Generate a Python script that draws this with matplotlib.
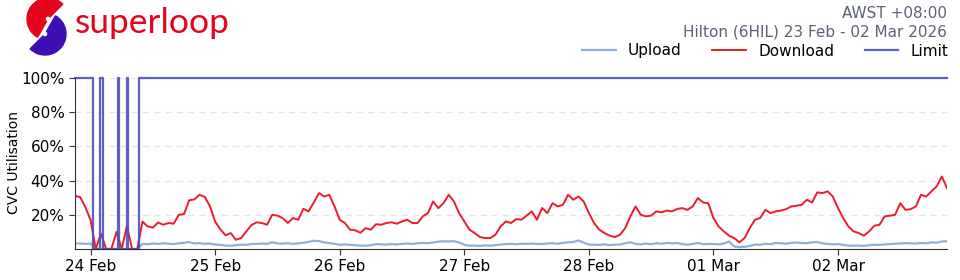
"""CVC utilisation chart for one POI over a week."""

import matplotlib
matplotlib.use("Agg")
import matplotlib.pyplot as plt
import matplotlib.dates as mdates
from matplotlib.patches import Wedge
import pandas as pd

# --- Data (hourly, AWST) ---

start = "2026-02-23 21:00"

download = [
    31.1, 30.3, 24.5, 17.0, 0, 9.0, 0, 0, 10.0, 0, 13.5, 0,
    0, 16.0, 13.2, 12.5, 15.5, 14.2, 15.2, 14.8, 20.0, 20.4, 28.5, 29.0,
    31.7, 30.5, 25.0, 16.0, 11.5, 8.0, 9.3, 5.4, 6.4, 10.3, 14.0, 15.6,
    15.2, 14.2, 20.0, 19.5, 18.1, 15.2, 18.1, 17.1, 23.5, 22.0, 27.2, 32.7,
    30.7, 31.7, 24.9, 17.1, 15.2, 11.3, 10.9, 9.5, 12.2, 11.3, 14.5, 14.2,
    15.2, 15.6, 14.8, 16.1, 17.1, 15.2, 15.2, 19.1, 21.0, 27.8, 23.9, 26.8,
    31.7, 27.8, 21.0, 16.1, 11.3, 9.3, 7.0, 6.4, 6.4, 8.3, 13.2, 16.1,
    15.2, 17.5, 17.1, 19.5, 22.0, 17.1, 24.0, 21.0, 26.8, 24.9, 25.8, 31.7,
    28.8, 30.7, 27.8, 21.0, 15.2, 11.3, 9.3, 7.8, 7.0, 8.3, 12.2, 19.1,
    24.9, 20.0, 19.1, 19.5, 22.0, 21.4, 22.5, 22.0, 23.4, 23.9, 22.9, 24.9,
    29.8, 27.2, 26.8, 18.1, 13.2, 10.3, 7.8, 6.4, 3.9, 6.4, 12.2, 17.1,
    18.1, 22.9, 21.0, 22.0, 22.5, 23.3, 24.9, 25.3, 25.8, 28.8, 27.2, 33.1,
    32.7, 33.7, 30.7, 23.9, 18.1, 13.2, 10.3, 9.3, 7.8, 10.3, 13.6, 14.2,
    19.1, 19.5, 20.0, 26.8, 22.9, 23.3, 24.9, 31.7, 30.7, 33.7, 36.6, 42.4,
    35.6,
]

upload = [
    3.3, 3.2, 3.0, 3.2, 0, 0, 0, 0, 0, 0, 0, 0,
    0, 3.0, 2.8, 3.2, 3.0, 3.4, 3.1, 2.9, 3.3, 3.6, 4.0, 3.3,
    3.4, 3.0, 3.2, 2.6, 2.4, 2.0, 1.9, 2.2, 2.5, 2.4, 2.9, 3.0,
    3.2, 3.0, 3.9, 3.3, 3.1, 3.4, 3.0, 3.3, 3.6, 4.2, 4.8, 4.6,
    3.9, 3.4, 3.0, 2.5, 2.7, 2.4, 2.2, 2.0, 1.9, 2.2, 2.9, 2.7,
    2.6, 2.9, 2.6, 3.0, 3.2, 3.0, 3.3, 3.6, 3.4, 3.8, 4.3, 4.5,
    4.4, 4.6, 3.8, 2.5, 1.9, 2.0, 1.8, 2.1, 1.9, 2.3, 2.6, 2.9,
    3.0, 2.8, 3.1, 3.0, 3.2, 3.0, 2.9, 3.2, 3.4, 3.0, 3.6, 3.9,
    4.1, 5.0, 3.7, 2.6, 2.5, 2.4, 2.7, 2.3, 2.5, 2.6, 3.4, 3.9,
    3.0, 2.7, 3.2, 2.8, 3.4, 3.1, 3.6, 3.3, 3.5, 2.9, 2.5, 3.0,
    3.5, 2.8, 3.0, 2.9, 2.7, 3.2, 4.4, 1.5, 1.1, 1.3, 1.8, 2.6,
    2.5, 3.0, 2.8, 3.5, 3.4, 3.1, 3.6, 3.8, 3.5, 3.4, 3.9, 4.1,
    3.3, 3.0, 2.7, 2.9, 2.4, 2.0, 1.9, 2.0, 1.8, 2.2, 2.5, 2.4,
    2.7, 2.9, 3.1, 3.2, 3.4, 3.3, 3.2, 3.5, 3.3, 3.9, 3.7, 4.4,
    4.6,
]

# limit only changes at a few moments, drawn as steps
limit_times = [
    "2026-02-23 21:00", "2026-02-24 00:28", "2026-02-24 01:51", "2026-02-24 02:27",
    "2026-02-24 05:12", "2026-02-24 05:27", "2026-02-24 06:57", "2026-02-24 07:15",
    "2026-02-24 09:21", "2026-03-02 21:00",
]
limit = [100, 0, 100, 0, 100, 0, 100, 0, 100, 100]

y_ticks = [20, 40, 60, 80, 100]

UPLOAD_COLOR = "#8fb1d4"
DOWNLOAD_COLOR = "#ee1c2a"
LIMIT_COLOR = "#4d4fc0"
BRAND_RED = "#e3051b"
BRAND_PURPLE = "#3d0fb5"


def draw_logo(fig):
    """Superloop wordmark and swirl in the top-left corner."""
    lax = fig.add_axes([0, 0, 1, 1], zorder=-1)
    lax.set_xlim(0, 960)
    lax.set_ylim(0, 280)
    lax.axis("off")
    lax.add_patch(Wedge((48, 261), 21, 45, 240, width=18, color=BRAND_RED))
    lax.add_patch(Wedge((45, 246), 21, 225, 60, width=18, color=BRAND_PURPLE))
    fig.text(75 / 960, 1 - 33 / 280, "superloop", fontsize=25.5, family="Lato",
             weight="normal", color=BRAND_RED, ha="left", va="baseline")


def main():
    times = pd.date_range(start, periods=len(download), freq="h")
    lim_t = pd.to_datetime(limit_times)

    fig = plt.figure(figsize=(9.6, 2.8), dpi=100)
    ax = fig.add_axes([75 / 960, 31 / 280, 872 / 960, 171 / 280])

    ax.plot(times, upload, color=UPLOAD_COLOR, lw=1.6, label="Upload")
    ax.plot(times, download, color=DOWNLOAD_COLOR, lw=1.4, label="Download")
    ax.plot(lim_t, limit, color=LIMIT_COLOR, lw=1.6, alpha=0.9,
            drawstyle="steps-post", label="Limit", clip_on=False)

    ax.set_xlim(times[0], times[-1])
    ax.set_ylim(0, 100)
    ax.set_yticks(y_ticks)
    ax.set_yticklabels([f"{v}%" for v in y_ticks])
    ax.yaxis.grid(True, ls=(0, (5, 4)), color="#e4e4e4", lw=0.9)
    ax.set_axisbelow(True)

    ax.xaxis.set_major_locator(mdates.DayLocator())
    ax.xaxis.set_major_formatter(mdates.DateFormatter("%d %b"))
    ax.tick_params(labelsize=11, length=4, color="#333333")

    for side in ("top", "right"):
        ax.spines[side].set_visible(False)
    for side in ("left", "bottom"):
        ax.spines[side].set_color("#333333")

    fig.text(14 / 960, 1 - 163 / 280, "CVC Utilisation", fontsize=10,
             rotation=90, ha="center", va="center")

    fig.text(947 / 960, 1 - 14 / 280, "AWST +08:00", fontsize=11,
             color="#5a6276", ha="right", va="center")
    fig.text(947 / 960, 1 - 32 / 280, "Hilton (6HIL) 23 Feb - 02 Mar 2026",
             fontsize=11, color="#5a6276", ha="right", va="center")

    fig.legend(loc="center right", bbox_to_anchor=(956 / 960, 1 - 51 / 280),
               ncol=3, frameon=False, fontsize=11, handlelength=2.2,
               handletextpad=0.8, columnspacing=2.0, borderpad=0)

    draw_logo(fig)

    fig.savefig("out.png", dpi=100)
    plt.close(fig)


if __name__ == "__main__":
    main()
